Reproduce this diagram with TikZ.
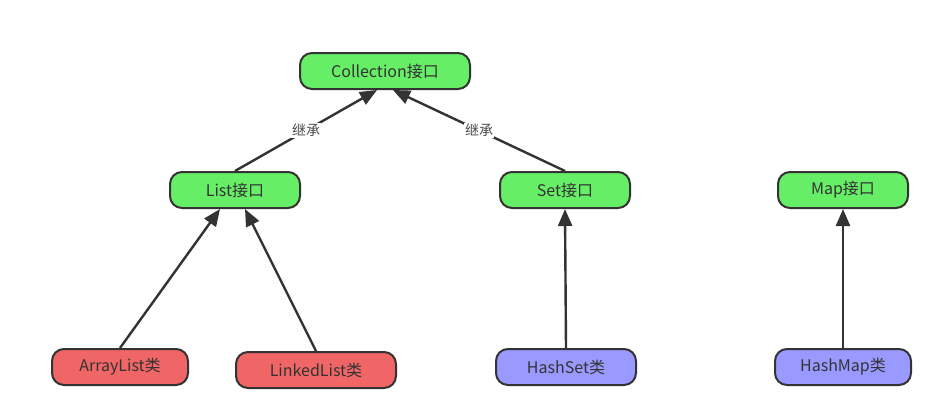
\documentclass[tikz,border=0pt]{standalone}
\usepackage{fontspec}
\setmainfont{Noto Sans CJK SC}
\usetikzlibrary{arrows.meta}
\definecolor{ifgreen}{RGB}{102,238,102}
\definecolor{clsred}{RGB}{240,102,102}
\definecolor{clsblue}{RGB}{153,153,255}
\definecolor{edgegray}{RGB}{51,51,51}

\begin{document}
\begin{tikzpicture}[x=1pt,y=-1pt,
  box/.style={draw=edgegray,line width=2pt,rounded corners=12pt,minimum height=36pt,inner sep=2pt,font=\fontsize{16}{18}\selectfont,text=black!80},
  iface/.style={box,fill=ifgreen},
  redcls/.style={box,fill=clsred},
  bluecls/.style={box,fill=clsblue},
  inherit/.style={draw=edgegray,line width=2.4pt,-{Triangle[length=17pt,width=14pt]}},
  lbl/.style={fill=white,inner sep=1pt,font=\fontsize{14}{16}\selectfont,text=black!70}]
\useasboundingbox (0,0) rectangle (940,405);

% interfaces
\node[iface,minimum width=170pt] (coll) at (385,71) {Collection接口};
\node[iface,minimum width=130pt] (list) at (235,190) {List接口};
\node[iface,minimum width=130pt] (set) at (565,190) {Set接口};
\node[iface,minimum width=130pt] (map) at (843,190) {Map接口};

% classes
\node[redcls,minimum width=136pt] (alist) at (120,367) {ArrayList类};
\node[redcls,minimum width=160pt] (llist) at (316,370) {LinkedList类};
\node[bluecls,minimum width=140pt] (hset) at (566,367) {HashSet类};
\node[bluecls,minimum width=136pt] (hmap) at (843,367) {HashMap类};

% inheritance
\draw[inherit] (list.north) -- node[lbl,pos=0.5] {继承} ([xshift=-8pt]coll.south);
\draw[inherit] (set.north) -- node[lbl,pos=0.5] {继承} ([xshift=8pt]coll.south);
\draw[inherit] (alist.north) -- ([xshift=-15pt]list.south);
\draw[inherit] (llist.north) -- ([xshift=10pt]list.south);
\draw[inherit] (hset.north) -- (set.south);
\draw[inherit] (hmap.north) -- (map.south);
\end{tikzpicture}
\end{document}
